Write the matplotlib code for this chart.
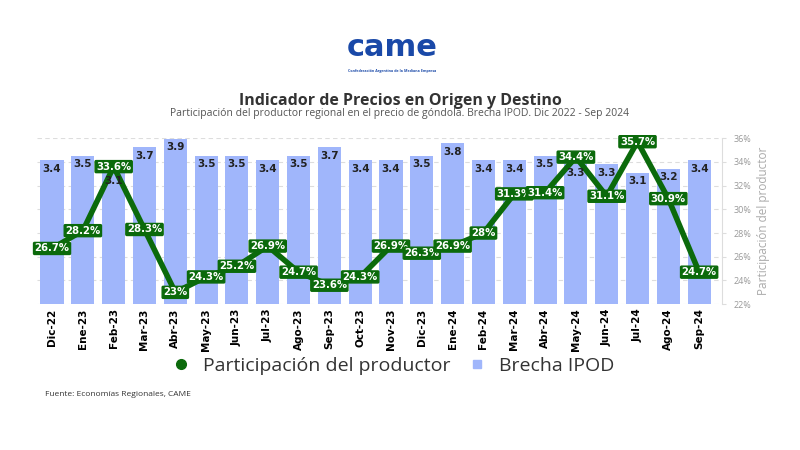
import matplotlib
matplotlib.use("Agg")
import matplotlib.pyplot as plt
from matplotlib.lines import Line2D

# datos
meses = ["Dic-22", "Ene-23", "Feb-23", "Mar-23", "Abr-23", "May-23", "Jun-23", "Jul-23",
         "Ago-23", "Sep-23", "Oct-23", "Nov-23", "Dic-23", "Ene-24", "Feb-24", "Mar-24",
         "Abr-24", "May-24", "Jun-24", "Jul-24", "Ago-24", "Sep-24"]
brecha = [3.4, 3.5, 3.1, 3.7, 3.9, 3.5, 3.5, 3.4, 3.5, 3.7, 3.4, 3.4,
          3.5, 3.8, 3.4, 3.4, 3.5, 3.3, 3.3, 3.1, 3.2, 3.4]
participacion = [26.7, 28.2, 33.6, 28.3, 23, 24.3, 25.2, 26.9, 24.7, 23.6, 24.3, 26.9,
                 26.3, 26.9, 28, 31.3, 31.4, 34.4, 31.1, 35.7, 30.9, 24.7]

verde = "#0b6a0b"
azul = "#a0b6fb"
ymin, ymax = 22, 36
bmax = 3.92

plt.rcParams['font.family'] = ['Open Sans', 'DejaVu Sans']

fig = plt.figure(figsize=(8, 4.5), dpi=100)
ax = fig.add_axes([0.0458, 0.324, 0.857, 0.369])
ax2 = ax.twinx()

x = list(range(len(meses)))
# rejilla detrás de las barras
for t in range(ymin, ymax + 1, 2):
    ax.axhline((t - ymin) / (ymax - ymin) * bmax, color="#dddddd",
               linestyle=(0, (4, 3)), linewidth=0.8, zorder=0)
ax.bar(x, brecha, width=0.75, color=azul, zorder=2)
ax.set_ylim(0, bmax)
ax.set_xlim(-0.5, len(meses) - 0.25)
ax.set_yticks([])
ax.set_xticks(x)
ax.set_xticklabels(meses, rotation=90, fontsize=7.5, fontweight="bold",
                   family=["Liberation Sans Narrow", "DejaVu Sans"])
ax.tick_params(axis="x", length=0, pad=3)
for s in ["top", "left", "bottom", "right"]:
    ax.spines[s].set_visible(False)

ax2.plot(x, participacion, color=verde, linewidth=4, zorder=4)
# etiquetas de las barras sobre la línea, debajo de las etiquetas verdes
for xi, v in zip(x, brecha):
    ax2.text(xi, v - 0.2, "%g" % v, ha="center", va="center", fontsize=7.5,
             fontweight="bold", color="#222222", family="DejaVu Sans", zorder=4.5,
             transform=ax.transData)
for xi, v in zip(x, participacion):
    ax2.text(xi, v, "%g%%" % v, ha="center", va="center", fontsize=7.3,
             fontweight="bold", color="white", family="DejaVu Sans", zorder=5,
             bbox=dict(boxstyle="round,pad=0.1", fc=verde, ec=verde))
ax2.set_ylim(ymin, ymax)
ax2.set_yticks(range(ymin, ymax + 1, 2))
ax2.set_yticklabels(["%d%%" % t for t in range(ymin, ymax + 1, 2)], fontsize=6.5, color="#999999")
ax2.tick_params(axis="y", length=3, color="#dddddd", pad=5)
ax2.set_ylabel("Participación del productor", color="#aaaaaa", fontsize=8.5, labelpad=4)
for s in ["top", "left", "bottom"]:
    ax2.spines[s].set_visible(False)
ax2.spines["right"].set_color("#dddddd")

# títulos
fig.text(0.5, 0.775, "Indicador de Precios en Origen y Destino", ha="center", va="center",
         fontsize=11.5, fontweight="bold", color="#333333")
fig.text(0.5, 0.748, "Participación del productor regional en el precio de góndola. Brecha IPOD. Dic 2022 - Sep 2024",
         ha="center", va="center", fontsize=7.5, color="#555555")

# logo
fig.text(0.49, 0.895, "came", ha="center", va="center", fontsize=22, fontweight="bold",
         color="#1a49a8", family="DejaVu Sans")
fig.text(0.49, 0.842, "Confederación Argentina de la Mediana Empresa", ha="center", va="center",
         fontsize=2.6, fontweight="bold", color="#1a49a8")

# leyenda
handles = [Line2D([], [], marker="o", linestyle="none", color=verde, markersize=7),
           Line2D([], [], marker="s", linestyle="none", color=azul, markersize=6)]
fig.legend(handles, ["Participación del productor", "Brecha IPOD"], loc="center",
           bbox_to_anchor=(0.485, 0.187), ncol=2, frameon=False, fontsize=14,
           handletextpad=0.1, columnspacing=0.4, labelcolor="#333333")

fig.text(0.056, 0.124, "Fuente: Economías Regionales, CAME", fontsize=6, color="#333333",
         va="center")

fig.savefig("out.png", dpi=100)
